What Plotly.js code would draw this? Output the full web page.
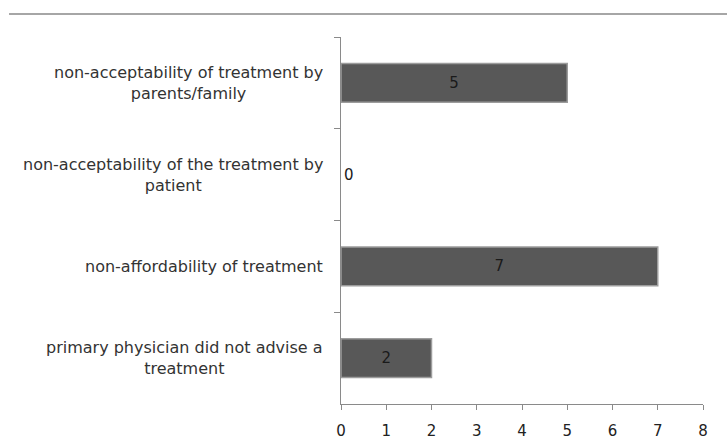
<!DOCTYPE html>
<html>
<head>
<meta charset="utf-8">
<script src="https://cdn.plot.ly/plotly-3.0.1.min.js"></script>
<style>html,body{margin:0;padding:0;background:#fff;}#chart{width:727px;height:444px;}</style>
</head>
<body>
<div id="chart"></div>
<script>
// Categories listed top to bottom as in the reference
const categories = [
  "non-acceptability of treatment by<br>parents/family",
  "non-acceptability of the treatment by<br>patient",
  "non-affordability of treatment",
  "primary physician did not advise a<br>treatment"
];
const values = [5, 0, 7, 2];
const xTicks = [0, 1, 2, 3, 4, 5, 6, 7, 8];

const trace = {
  type: "bar",
  orientation: "h",
  y: categories,
  x: values,
  text: values.map(String),
  textposition: values.map(v => v === 0 ? "outside" : "inside"),
  insidetextanchor: "middle",
  textfont: {family: "DejaVu Sans, sans-serif", size: 15, color: "#1a1a1a"},
  marker: {color: "#585858", line: {color: "#9c9c9c", width: values.map(v => v === 0 ? 0 : 1.5)}},
  cliponaxis: false,
  hoverinfo: "none"
};

const annotations = categories.map(c => ({
  xref: "paper", x: 0, xanchor: "right", xshift: -16,
  yref: "y", y: c, yanchor: "middle",
  text: c, align: "center", showarrow: false,
  font: {family: "DejaVu Sans, sans-serif", size: 16, color: "#333"}
}));

const layout = {
  width: 727, height: 444,
  margin: {l: 341, r: 24, t: 37, b: 40},
  paper_bgcolor: "#fff", plot_bgcolor: "#fff",
  showlegend: false,
  bargap: 0.58,
  font: {family: "DejaVu Sans, sans-serif", size: 15, color: "#333"},
  xaxis: {
    range: [0, 8], tickvals: xTicks, ticktext: xTicks.map(String),
    showgrid: false, zeroline: false,
    showline: true, linecolor: "#8a8a8a", linewidth: 1,
    ticks: "outside", ticklen: 5, tickcolor: "#8a8a8a",
    ticklabelstandoff: 8,
    tickfont: {family: "DejaVu Sans, sans-serif", size: 15, color: "#222"},
    fixedrange: true
  },
  yaxis: {
    type: "category", autorange: "reversed",
    showticklabels: false, showgrid: false, zeroline: false,
    showline: true, linecolor: "#8a8a8a", linewidth: 1,
    ticks: "outside", tickson: "boundaries", ticklen: 6, tickcolor: "#8a8a8a",
    fixedrange: true
  },
  annotations: annotations,
  shapes: [{
    type: "line", xref: "paper", yref: "paper",
    x0: -0.917, x1: 1.07, y0: 1.063, y1: 1.063,
    line: {color: "#a6a6a6", width: 2}
  }]
};

Plotly.newPlot("chart", [trace], layout, {staticPlot: true, displayModeBar: false});
</script>
</body>
</html>
